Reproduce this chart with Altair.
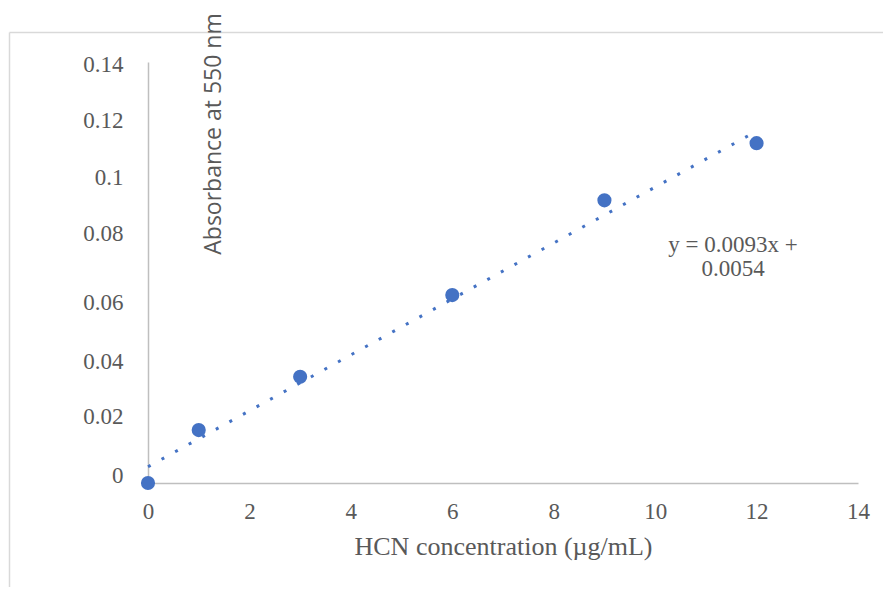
import altair as alt
import pandas as pd

# Data
conc = [0, 1, 3, 6, 9, 12]
absorb = [0.0, 0.0176, 0.0353, 0.0625, 0.094, 0.113]

# Trendline as displayed on the chart
slope = 0.0093
intercept = 0.0054
trend_x = [0, 12]

x_ticks = [0, 2, 4, 6, 8, 10, 12, 14]
y_ticks = [0, 0.02, 0.04, 0.06, 0.08, 0.1, 0.12, 0.14]

eq_lines = ["y = 0.0093x +", "0.0054"]
x_title = "HCN concentration (µg/mL)"
y_title = "Absorbance at 550 nm"

BLUE = "#4472C4"
GREY = "#595959"

pts = pd.DataFrame({"x": conc, "y": absorb})
trend = pd.DataFrame({"x": trend_x, "y": [slope * v + intercept for v in trend_x]})
one = pd.DataFrame({"a": [0]})

xs = alt.Scale(domain=[0, 14], nice=False)
ys = alt.Scale(domain=[0, 0.14], nice=False)

y_label_offset = {
    "condition": [
        {"test": "datum.value > 0.13", "value": 2},
        {"test": "datum.value > 0.11", "value": -2},
        {"test": "datum.value > 0.09", "value": -5},
        {"test": "datum.value > 0.07", "value": -9},
        {"test": "datum.value > 0.05", "value": 0},
        {"test": "datum.value > 0.03", "value": -1},
        {"test": "datum.value > 0.01", "value": -6},
    ],
    "value": -8,
}

x_axis = alt.Axis(values=x_ticks, title=x_title, labelPadding=17, titlePadding=10,
                  format="~g", labelFlush=False)
y_axis = alt.Axis(values=y_ticks, title=None, labelPadding=25, format="~g",
                  labelFlush=False, labelOffset=y_label_offset)

line = alt.Chart(trend).mark_line(color=BLUE, strokeWidth=3, strokeDash=[3, 12.5],
                                  strokeCap="butt").encode(
    x=alt.X("x:Q", scale=xs, axis=x_axis),
    y=alt.Y("y:Q", scale=ys, axis=y_axis),
)

points = alt.Chart(pts).mark_circle(color=BLUE, size=200, opacity=1).encode(
    x=alt.X("x:Q", scale=xs),
    y=alt.Y("y:Q", scale=ys),
)

ytitle = alt.Chart(one).mark_text(angle=270, font="Open Sans", fontSize=23, color=GREY,
                                  align="center", baseline="middle").encode(
    x=alt.value(66), y=alt.value(72), text=alt.value(y_title)
)

eq = alt.Chart(one).mark_text(font="Liberation Serif", fontSize=23, color=GREY,
                              align="center", baseline="middle", lineHeight=24).encode(
    x=alt.value(585), y=alt.value(183), text=alt.value(eq_lines)
)

border_top = alt.Chart(one).mark_rule(color="#d9d9d9", strokeWidth=1.5).encode(
    x=alt.value(-138.5), x2=alt.value(800), y=alt.value(-29.5)
)
border_left = alt.Chart(one).mark_rule(color="#d9d9d9", strokeWidth=1.5).encode(
    x=alt.value(-138.5), y=alt.value(-29.5), y2=alt.value(700)
)

chart = alt.layer(border_top, border_left, line, points, ytitle, eq).properties(
    width=710, height=421,
    autosize=alt.AutoSizeParams(type="none"),
    padding={"left": 140, "top": 54, "right": 25, "bottom": 104},
).configure_view(stroke=None).configure_axis(
    ticks=False, grid=False, domainColor="#bfbfbf", domainWidth=1.5,
    labelFont="Liberation Serif", labelFontSize=23, labelColor=GREY,
    titleFont="Liberation Serif", titleFontSize=26, titleColor=GREY, titleFontWeight="normal",
)

chart.save("out.html", embed_options={"renderer": "svg", "actions": False})
